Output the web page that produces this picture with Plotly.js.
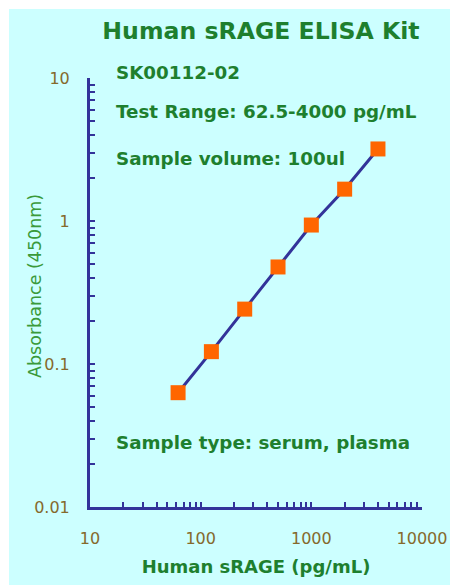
<!DOCTYPE html>
<html><head><meta charset="utf-8">
<script src="https://cdn.plot.ly/plotly-3.0.1.min.js"></script>
<style>html,body{margin:0;padding:0;background:#fff;width:450px;height:585px;overflow:hidden}
#chart{position:absolute;left:9px;top:9px;width:441px;height:576px}</style>
</head><body><div id="chart"></div>
<script>
const concentration = [62.5, 125, 250, 500, 1000, 2000, 4000];
const absorbance = [0.063, 0.122, 0.242, 0.477, 0.937, 1.67, 3.19];

const xTickVals = [10,20,30,40,50,60,70,80,90,100,200,300,400,500,600,700,800,900,1000,2000,3000,4000,5000,6000,7000,8000,9000,10000];
const xTickText = xTickVals.map(v => [10,100,1000,10000].includes(v) ? String(v) : '');
const yTickVals = [0.01,0.02,0.03,0.04,0.05,0.06,0.07,0.08,0.09,0.1,0.2,0.3,0.4,0.5,0.6,0.7,0.8,0.9,1,2,3,4,5,6,7,8,9,10];
const yTickText = yTickVals.map(v => [0.01,0.1,1,10].includes(v) ? String(v) : '');

const infoTexts = ['SK00112-02', 'Test Range: 62.5-4000 pg/mL', 'Sample volume: 100ul', 'Sample type: serum, plasma'];
const infoY = [1.0117, 0.921, 0.8135, 0.1515];

const green = '#1e7f2e';
const navy = '#333399';
const tickCol = '#85692c';
const font = 'DejaVu Sans, Verdana, sans-serif';

const trace = {
  x: concentration, y: absorbance, type: 'scatter', mode: 'lines+markers',
  line: {color: navy, width: 3},
  marker: {symbol: 'square', size: 15, color: '#ff6600', line: {width: 0}},
  cliponaxis: false
};

const axisCommon = {
  type: 'log', showgrid: false, zeroline: false, showline: true,
  linecolor: navy, linewidth: 3, ticks: 'inside', ticklen: 5, tickwidth: 2,
  tickcolor: navy, tickfont: {family: font, size: 16, color: tickCol},
  tickmode: 'array'
};

const annotations = infoTexts.map((t, i) => ({
  text: '<b>' + t + '</b>', xref: 'paper', yref: 'paper', x: 24/332, y: infoY[i],
  xanchor: 'left', yanchor: 'middle', showarrow: false,
  font: {family: font, size: 18.3, color: green}
}));
annotations.push({
  text: 'Absorbance (450nm)', xref: 'paper', yref: 'paper', x: (35-90)/332, y: (507-286)/429,
  xanchor: 'center', yanchor: 'middle', textangle: -90, showarrow: false,
  font: {family: font, size: 17.5, color: '#3a9a3a'}
});

const layout = {
  width: 441, height: 576,
  paper_bgcolor: '#ccffff', plot_bgcolor: '#ccffff',
  margin: {l: 81, r: 28, t: 69, b: 78},
  showlegend: false,
  title: {text: '<b>Human sRAGE ELISA Kit</b>', font: {family: font, size: 23.6, color: green},
          x: 252/441, xanchor: 'center', y: 1 - 22/576, yanchor: 'middle', xref: 'container', yref: 'container'},
  xaxis: Object.assign({}, axisCommon, {
    range: [1, 4], tickvals: xTickVals, ticktext: xTickText, ticklabelstandoff: 15,
    title: {text: '<b>Human sRAGE (pg/mL)</b>', font: {family: font, size: 18, color: green}, standoff: 14}
  }),
  yaxis: Object.assign({}, axisCommon, {
    range: [-2, 1], tickvals: yTickVals, ticktext: yTickText, ticklabelstandoff: 14
  }),
  annotations: annotations
};

Plotly.newPlot('chart', [trace], layout, {displayModeBar: false, staticPlot: true});
</script></body></html>
